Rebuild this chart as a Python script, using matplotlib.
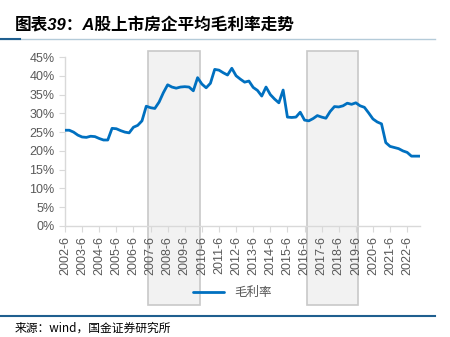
import matplotlib
matplotlib.use("Agg")
import matplotlib.pyplot as plt
import matplotlib.transforms as mtransforms
from matplotlib.lines import Line2D
from matplotlib.patches import Rectangle

plt.rcParams['font.family'] = ['Liberation Sans', 'Noto Sans CJK SC']
plt.rcParams['axes.unicode_minus'] = False

# 季度日期标签：2002-6 至 2023-3
months = [6, 9, 12, 3]
quarters = []
y, i = 2002, 0
while len(quarters) < 84:
    m = months[i % 4]
    if m == 3 and i > 0:
        y += 1
    quarters.append(f"{y}-{m}")
    i += 1

# A股上市房企平均毛利率（%）
gross_margin = [
    25.5, 25.5, 25.0, 24.2, 23.7, 23.6, 23.9, 23.8,
    23.3, 22.9, 22.9, 26.0, 25.9, 25.4, 25.0, 24.8,
    26.3, 26.8, 28.0, 31.9, 31.5, 31.3, 33.0, 35.5,
    37.6, 37.0, 36.7, 37.0, 37.1, 37.0, 36.0, 39.5,
    37.8, 36.8, 38.0, 41.7, 41.5, 40.8, 40.2, 42.0,
    40.0, 39.1, 38.3, 38.6, 36.9, 36.1, 34.6, 37.0,
    35.0, 33.8, 32.8, 36.2, 29.0, 28.9, 29.0, 30.3,
    28.2, 28.0, 28.6, 29.4, 29.0, 28.7, 30.5, 31.8,
    31.7, 32.0, 32.7, 32.4, 32.8, 32.0, 31.6, 30.1,
    28.5, 27.7, 27.2, 22.2, 21.2, 20.9, 20.6, 20.0,
    19.6, 18.6, 18.6, 18.6,
]

# 阴影区间（起止季度）
shade_periods = [("2007-6", "2010-3"), ("2016-9", "2019-6")]

yticks = list(range(0, 50, 5))
xtick_labels = quarters[::4]

W, H = 450, 337
fig = plt.figure(figsize=(W / 100, H / 100), dpi=100)
ax = fig.add_axes([65 / W, 1 - 226 / H, (420 - 65) / W, (226 - 57) / H])
ax.patch.set_visible(False)

x = list(range(len(gross_margin)))
ax.plot(x, gross_margin, color='#0070c0', lw=2.0, solid_joinstyle='round',
        solid_capstyle='round', label='毛利率', zorder=3)

ax.set_xlim(0, len(gross_margin) - 1)
ax.set_ylim(0, 45)
ax.set_yticks(yticks)
ax.set_yticklabels([f"{v}%" for v in yticks])
ax.set_xticks(x[::4])
ax.set_xticklabels(xtick_labels, rotation=90)

for s in ['top', 'right']:
    ax.spines[s].set_visible(False)
for s in ['left', 'bottom']:
    ax.spines[s].set_color('#d9d9d9')
    ax.spines[s].set_linewidth(1.0)
ax.tick_params(colors='#d9d9d9', length=4, labelcolor='#595959', labelsize=9)
ax.tick_params(axis='x', pad=3)

# 灰色区间框，延伸到坐标轴外
trans = mtransforms.blended_transform_factory(ax.transData, fig.transFigure)
for start, end in shade_periods:
    x0 = quarters.index(start) - 0.5
    x1 = quarters.index(end) + 0.5
    rect = Rectangle((x0, 1 - 305 / H), x1 - x0, (305 - 51) / H,
                     transform=trans, facecolor='#f2f2f2', edgecolor='#c8c8c8',
                     lw=1.2, zorder=-1)
    fig.add_artist(rect)

fig.legend(loc='center', bbox_to_anchor=(0.516, 1 - 293 / H), frameon=False,
           handlelength=2.5, fontsize=9, labelcolor='#595959')

# 标题与分隔线
fig.text(15 / W, 1 - 25 / H, "图表39：A股上市房企平均毛利率走势", fontsize=12,
         fontweight='bold', style='italic', va='center', ha='left', color='black')
fig.add_artist(Line2D([0, 435 / W], [1 - 39 / H] * 2, color='#b4cbd9', lw=1.0))
fig.add_artist(Line2D([0, 20 / W], [1 - 39 / H] * 2, color='#1f5f8f', lw=1.5))
fig.add_artist(Line2D([0, 435 / W], [1 - 316 / H] * 2, color='#1f5f8f', lw=1.5))

fig.text(15 / W, 1 - 328 / H, "来源：wind，国金证券研究所", fontsize=8.5,
         family=['Noto Sans CJK SC', 'DejaVu Sans'], va='center', ha='left', color='black')

fig.savefig("out.png", dpi=100)
